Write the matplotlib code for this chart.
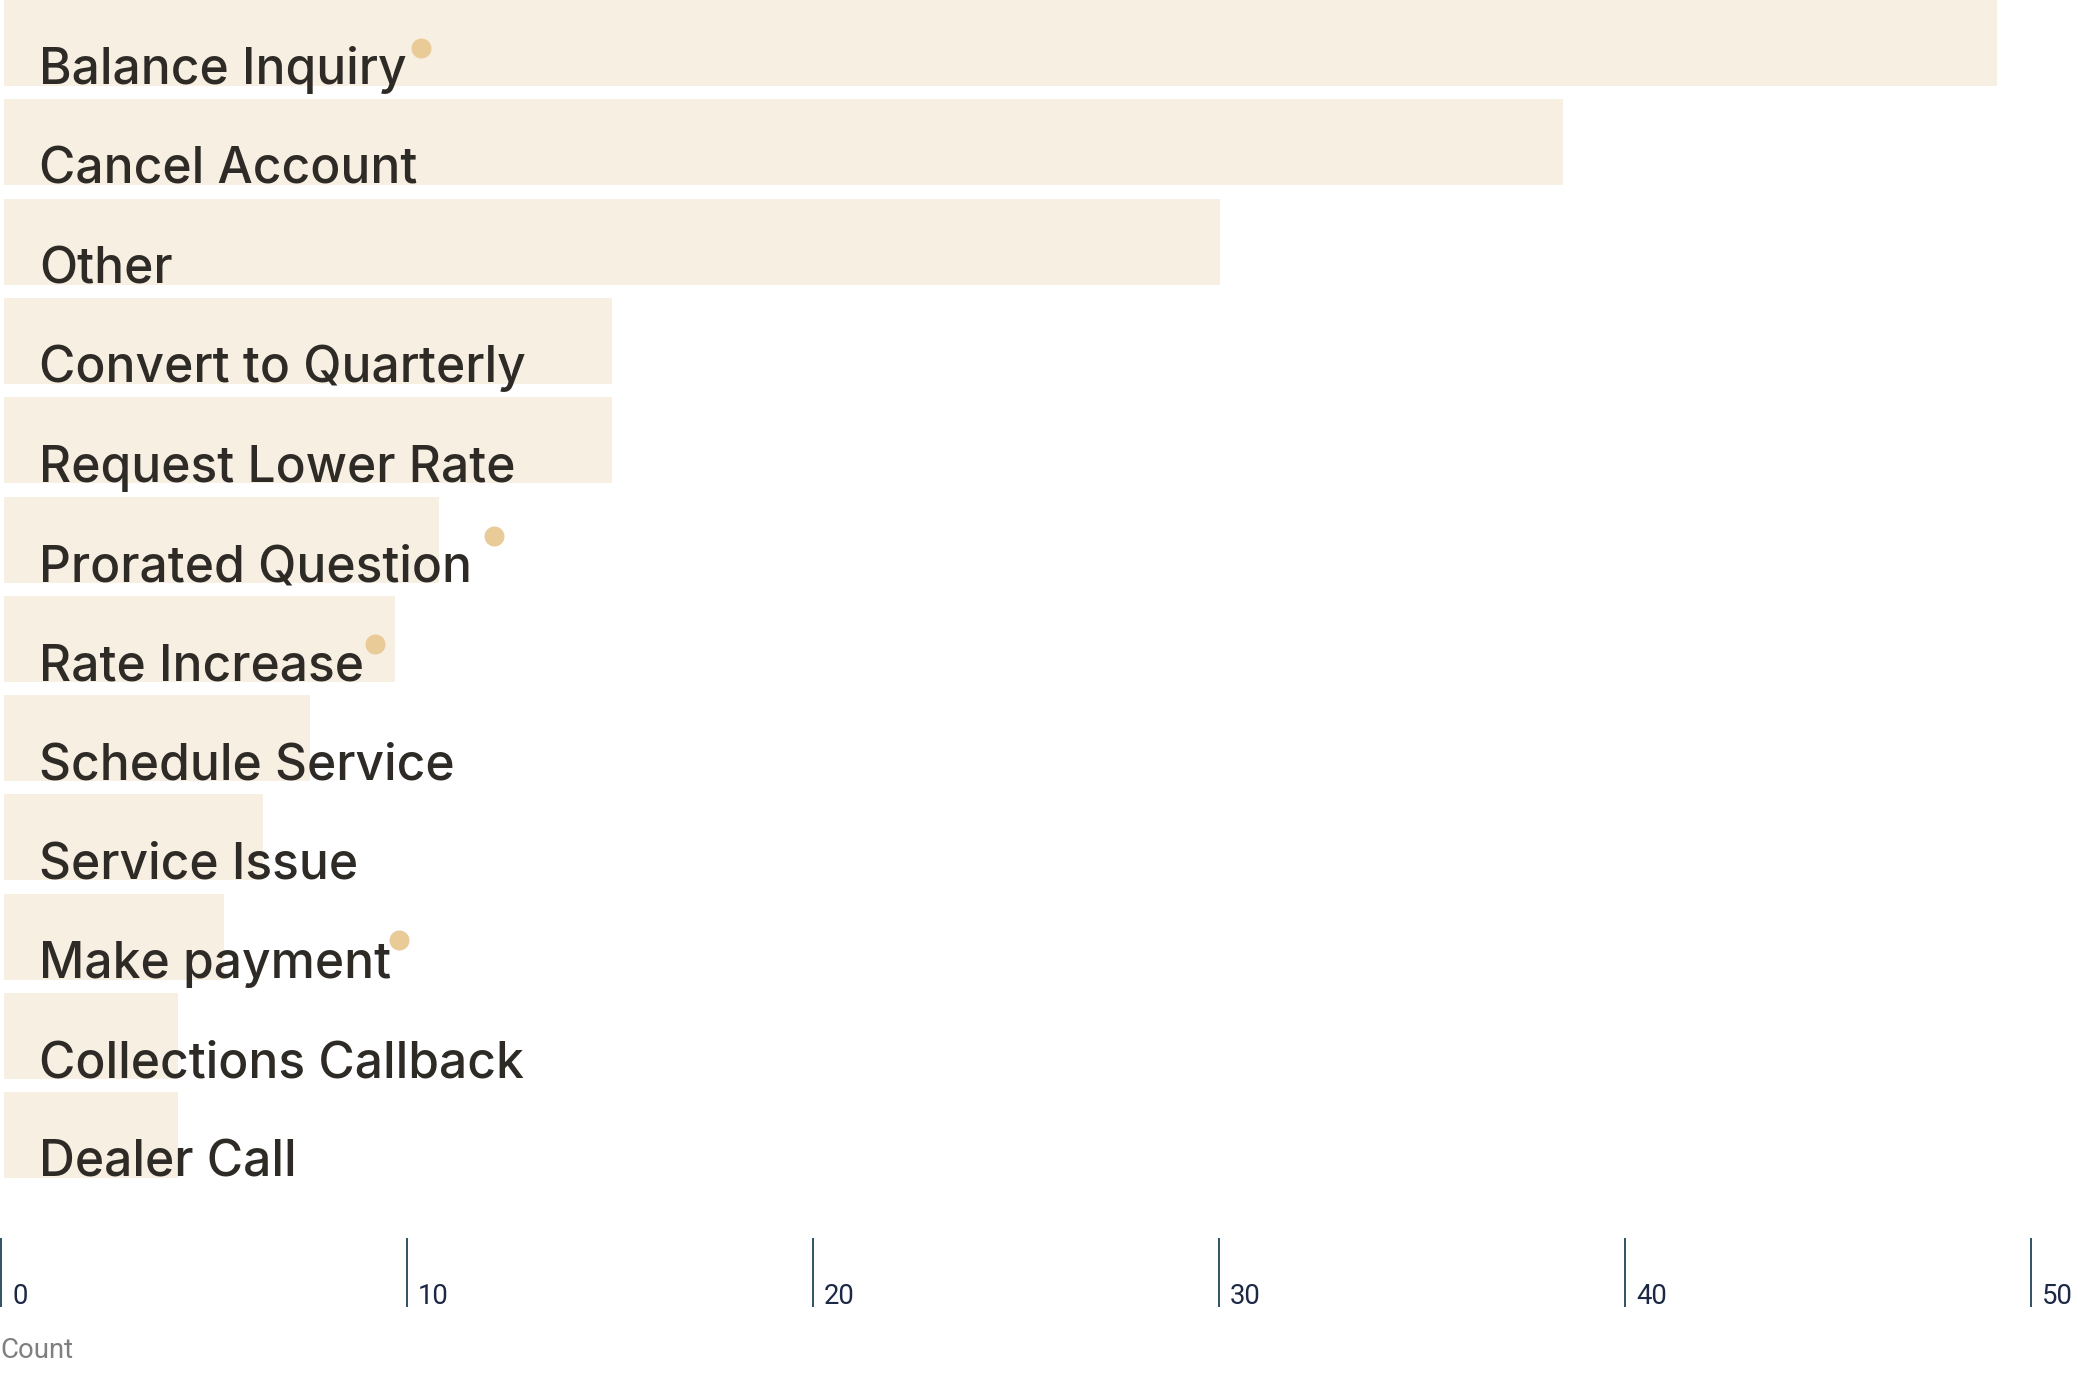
import matplotlib
matplotlib.use("Agg")
import matplotlib.pyplot as plt
import matplotlib.transforms as mtransforms

# ---- data ----
categories = ["Balance Inquiry", "Cancel Account", "Other", "Convert to Quarterly",
              "Request Lower Rate", "Prorated Question", "Rate Increase",
              "Schedule Service", "Service Issue", "Make payment",
              "Collections Callback", "Dealer Call"]
counts = [49.1, 38.4, 29.95, 14.97, 14.97, 10.72, 9.63, 7.53, 6.38, 5.43, 4.3, 4.3]

dot_categories = ["Balance Inquiry", "Prorated Question", "Rate Increase", "Make payment"]
dot_values = [10.35, 12.15, 9.2, 9.8]
dot_jitter = [0.05, -0.035, 0.05, 0.03]

x_ticks = [0, 10, 20, 30, 40, 50]
x_label = "Count"

# ---- style ----
W, H, DPI = 2086, 1378, 100
BAR_COLOR = "#F8EFE3"
DOT_COLOR = "#E8CB97"
TEXT_COLOR = "#2E2B27"
TICK_COLOR = "#1E4556"
TICK_TEXT = "#1C2845"

fig = plt.figure(figsize=(W / DPI, H / DPI), dpi=DPI)
fig.patch.set_facecolor("white")

px_per_unit = 40.6
x0_px = 1.0
ax_left = x0_px / W
ax_width = 50 * px_per_unit / W
ax = fig.add_axes([ax_left, 0, ax_width, 1])
ax.set_xlim(0, 50)

pitch = 99.3
center0 = 43.0
ax.set_ylim((H - center0) / pitch, -center0 / pitch)
ax.axis("off")

ypos = list(range(len(categories)))
ax.barh(ypos, counts, height=86 / pitch, color=BAR_COLOR, left=0.07, linewidth=0, zorder=1)

label_tr = ax.transData + mtransforms.ScaledTranslation(38 / DPI, 0, fig.dpi_scale_trans)
for i, name in enumerate(categories):
    ax.text(0, i + 41.5 / pitch, name, transform=label_tr, fontsize=35.8,
            family=["Inter", "DejaVu Sans"], fontweight=500, color=TEXT_COLOR,
            va="baseline", ha="left", zorder=3)

dot_y = [categories.index(c) + j for c, j in zip(dot_categories, dot_jitter)]
ax.scatter(dot_values, dot_y, s=(20 * 0.72) ** 2, color=DOT_COLOR, linewidths=0, zorder=4)

# ---- axis ticks at bottom ----
xt = ax.get_xaxis_transform()
y_top = 1 - 1238 / H
y_bot = 1 - 1307 / H
for t in x_ticks:
    ax.plot([t, t], [y_top, y_bot], transform=xt, color=TICK_COLOR, lw=1.3,
            solid_capstyle="butt", clip_on=False)
tick_tr = xt + mtransforms.ScaledTranslation(11 / DPI, 0, fig.dpi_scale_trans)
for t in x_ticks:
    ax.text(t, 1 - 1304 / H, str(t), transform=tick_tr, fontsize=19.8,
            family=["Roboto", "DejaVu Sans"], color=TICK_TEXT, va="baseline", ha="left")

fig.text(0.5 / W, 1 - 1357.5 / H, x_label, fontsize=19.8, family=["Roboto", "DejaVu Sans"],
         color="#7F7F7F", va="baseline", ha="left")

fig.savefig("out.png", dpi=DPI, facecolor="white")
